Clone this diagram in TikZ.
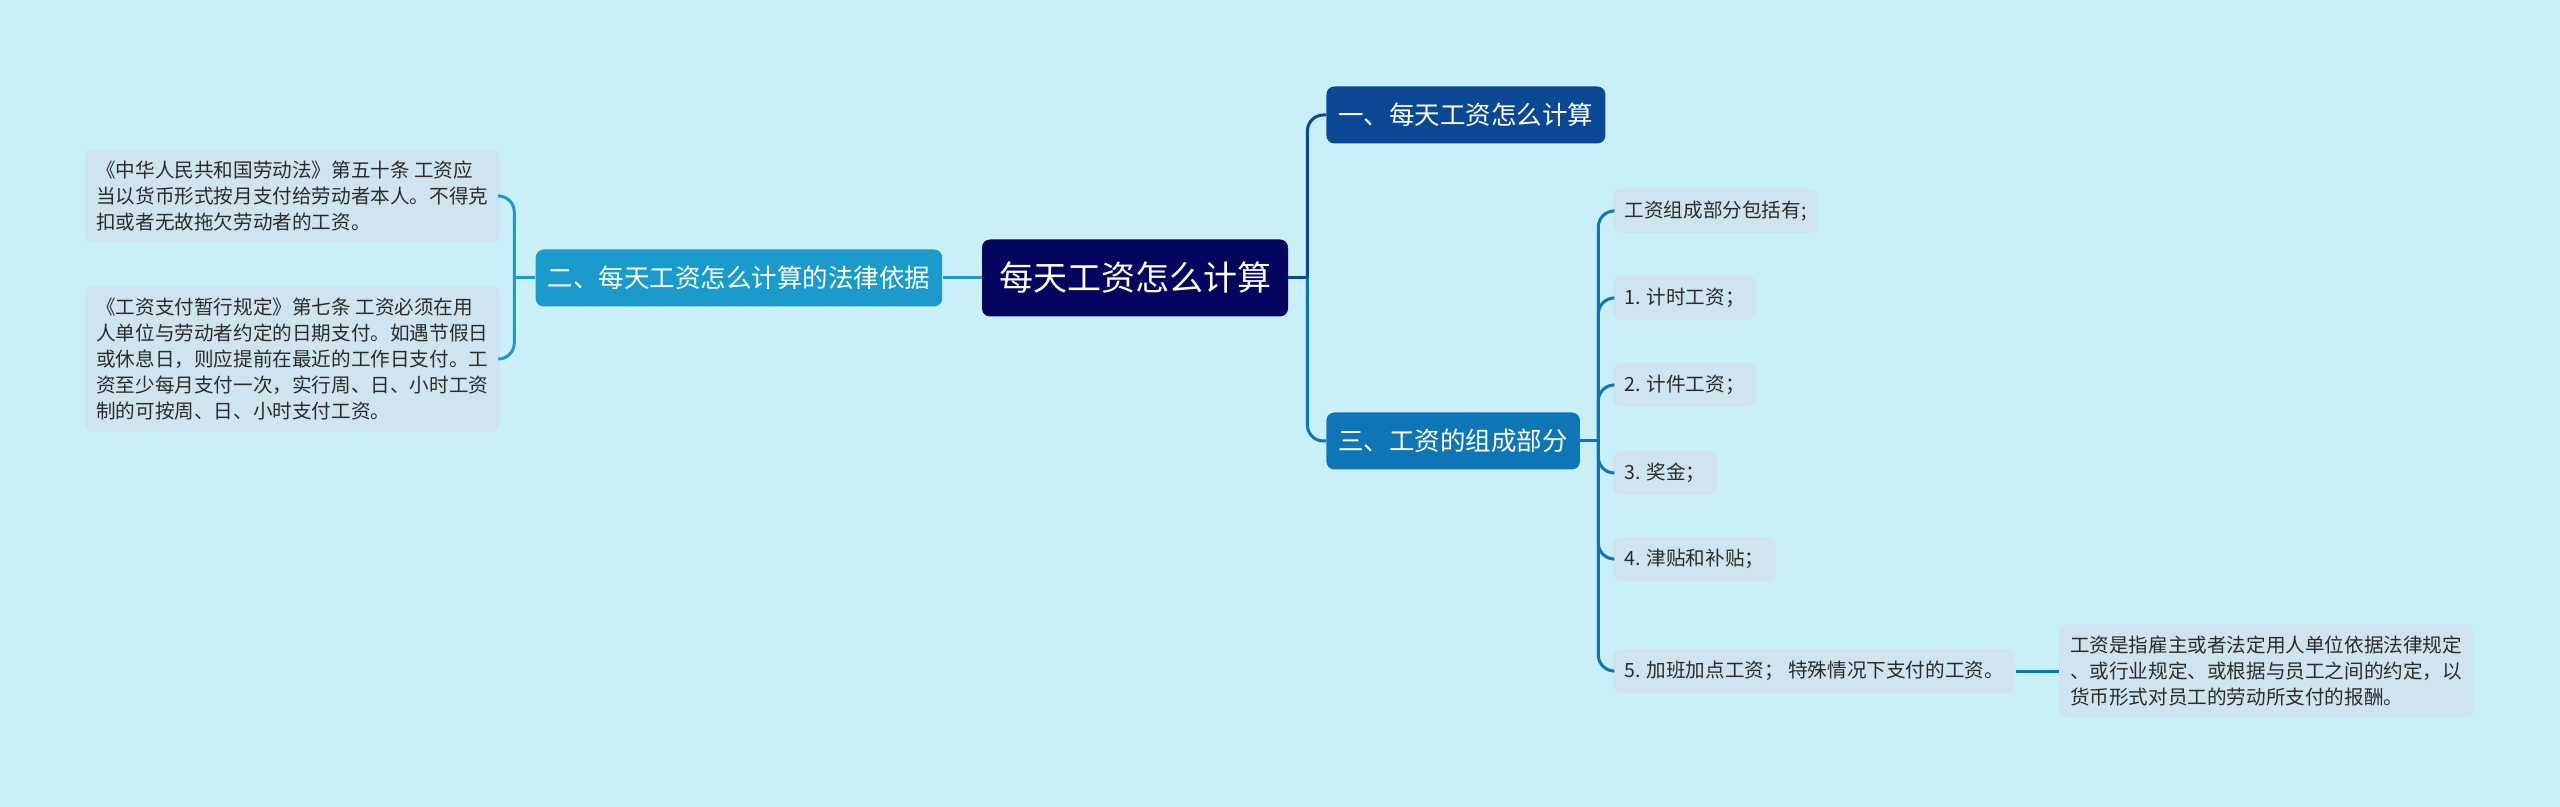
\documentclass[tikz,border=0pt]{standalone}
\usepackage{fontspec}
\newfontfamily\cjk{Noto Sans CJK SC}
\usetikzlibrary{positioning}

\definecolor{bgcyan}{HTML}{C9EFF8}
\definecolor{rootnavy}{HTML}{04055E}
\definecolor{topicone}{HTML}{0B4893}
\definecolor{topictwo}{HTML}{1B9BCB}
\definecolor{topicthree}{HTML}{0E76B6}
\definecolor{leafgray}{HTML}{CFE4EF}
\definecolor{leaftext}{HTML}{2B2B2B}

\begin{document}
\begin{tikzpicture}[x=0.5pt, y=-0.5pt]
    \tikzstyle{rootnode} = [fill=rootnavy, rounded corners=4pt, text=white, font=\cjk\fontsize{17}{20}\selectfont, inner xsep=8.5pt, minimum height=38.5pt];
    \tikzstyle{topic} = [rounded corners=4pt, text=white, font=\cjk\fontsize{12.75}{15}\selectfont, inner xsep=6pt, minimum height=28.5pt];
    \tikzstyle{leaf} = [fill=leafgray, rounded corners=4pt, text=leaftext, font=\cjk\fontsize{9.8}{13}\selectfont, inner xsep=5.6pt, inner ysep=5.6pt, minimum height=22pt, align=left];
    \tikzstyle{link} = [line width=1.5pt];

    \fill[bgcyan] (0,0) rectangle (2560,807);
    \useasboundingbox (0,0) rectangle (2560,807);

    \node[rootnode] at (1135, 278) (root) {每天工资怎么计算};
    \node[topic, fill=topictwo, left = 19.5pt of root] (two) {二、每天工资怎么计算的法律依据};
    \node[topic, fill=topicone, anchor=west] at (1326, 115) (one) {一、每天工资怎么计算};
    \node[topic, fill=topicthree, anchor=west] at (1326, 441) (three) {三、工资的组成部分};

    \node[leaf, anchor=east] at (500, 196) (law1) {《中华人民共和国劳动法》第五十条 工资应\\当以货币形式按月支付给劳动者本人。不得克\\扣或者无故拖欠劳动者的工资。};
    \node[leaf, anchor=east] at (500, 359) (law2) {《工资支付暂行规定》第七条 工资必须在用\\人单位与劳动者约定的日期支付。如遇节假日\\或休息日，则应提前在最近的工作日支付。工\\资至少每月支付一次，实行周、日、小时工资\\制的可按周、日、小时支付工资。};

    \node[leaf, anchor=west] at (1613, 211) (part0) {工资组成部分包括有;};
    \node[leaf, anchor=west] at (1613, 298) (part1) {1. 计时工资；};
    \node[leaf, anchor=west] at (1613, 385) (part2) {2. 计件工资；};
    \node[leaf, anchor=west] at (1613, 473) (part3) {3. 奖金；};
    \node[leaf, anchor=west] at (1613, 559) (part4) {4. 津贴和补贴；};
    \node[leaf, anchor=west] at (1613, 671) (part5) {5. 加班加点工资；\ 特殊情况下支付的工资。};
    \node[leaf, right = 21.5pt of part5] (define) {工资是指雇主或者法定用人单位依据法律规定\\、或行业规定、或根据与员工之间的约定，以\\货币形式对员工的劳动所支付的报酬。};

    % root to the right topics
    \draw[link, topicone] (root.east) -- ++(19, 0) coordinate (rt);
    \draw[link, topicone, rounded corners=8pt] (rt) |- (one.west);
    \draw[link, topicthree, rounded corners=8pt] (rt) |- (three.west);

    % root to the left topic
    \draw[link, topictwo] (root.west) -- (two.east);
    \draw[link, topictwo] (two.west) -- ++(-21, 0) coordinate (lt);
    \draw[link, topictwo, rounded corners=8pt] (lt) |- (law1.east);
    \draw[link, topictwo, rounded corners=8pt] (lt) |- (law2.east);

    % parts of the wage
    \draw[link, topicthree] (three.east) -- ++(18, 0) coordinate (tt);
    \draw[link, topicthree, rounded corners=8pt] (tt) |- (part0.west);
    \draw[link, topicthree, rounded corners=8pt] (tt) |- (part1.west);
    \draw[link, topicthree, rounded corners=8pt] (tt) |- (part2.west);
    \draw[link, topicthree, rounded corners=8pt] (tt) |- (part3.west);
    \draw[link, topicthree, rounded corners=8pt] (tt) |- (part4.west);
    \draw[link, topicthree, rounded corners=8pt] (tt) |- (part5.west);
    \draw[link, topicthree] (part5.east) -- (define.west);
\end{tikzpicture}
\end{document}
